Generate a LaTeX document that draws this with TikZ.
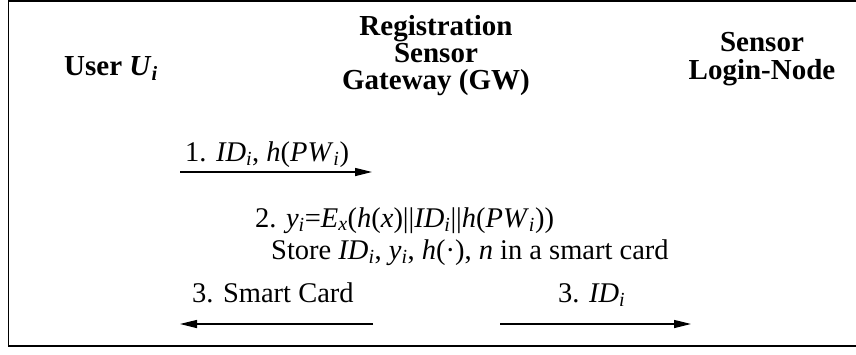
\documentclass[tikz,border=0pt]{standalone}
\usepackage{fontspec}
\setmainfont{Liberation Serif}
\usetikzlibrary{arrows.meta}
\newcommand\iv[1]{\textit{#1}}
\newcommand\sbi[1]{\textsubscript{\itshape #1}}
\begin{document}
\begin{tikzpicture}[x=1pt,y=-1pt,
  txt/.style={inner sep=0pt, font=\fontsize{28.5}{29}\selectfont},
  hdr/.style={inner sep=0pt, font=\fontsize{29}{29}\selectfont\bfseries, anchor=base},
  msg/.style={line width=1.3pt, -{Triangle[length=17pt,width=8pt]}},
  frame/.style={line width=1.6pt}]
\useasboundingbox (0,0) rectangle (856,354);
\draw[frame] (856,0.8) -- (8.5,0.8) -- (8.5,346) -- (856,346);
\node[hdr] (user) at (111,75) {User \textit{U}\sbi{i}};
\node[hdr] (gw1) at (436,35) {Registration};
\node[hdr] (gw2) at (436,62) {Sensor};
\node[hdr] (gw3) at (436,89) {Gateway (GW)};
\node[hdr] (sn1) at (762,51) {Sensor};
\node[hdr] (sn2) at (762,79) {Login-Node};
\node[txt, anchor=base west] (m1) at (185,161) {1. \iv{ID}\sbi{i}, \iv{h}(\iv{PW}\sbi{i})};
\coordinate (a1s) at (180,172);
\coordinate (a1e) at (372,172);
\draw[msg] (a1s) -- (a1e);
\node[txt, anchor=base west] (m2) at (255,227) {2. \iv{y}\sbi{i}=\iv{E}\sbi{x}(\iv{h}(\iv{x})||\iv{ID}\sbi{i}||\iv{h}(\iv{PW}\sbi{i}))};
\node[txt, anchor=base west] (m3) at (271,259) {Store \iv{ID}\sbi{i}, \iv{y}\sbi{i}, \iv{h}(·), \iv{n} in a smart card};
\node[txt, anchor=base west] (m4) at (192,302) {3. Smart Card};
\node[txt, anchor=base west] (m5) at (558,302) {3. \iv{ID}\sbi{i}};
\coordinate (a2s) at (373,324);
\coordinate (a2e) at (180,324);
\draw[msg] (a2s) -- (a2e);
\coordinate (a3s) at (500,324);
\coordinate (a3e) at (691,324);
\draw[msg] (a3s) -- (a3e);
\end{tikzpicture}
\end{document}
